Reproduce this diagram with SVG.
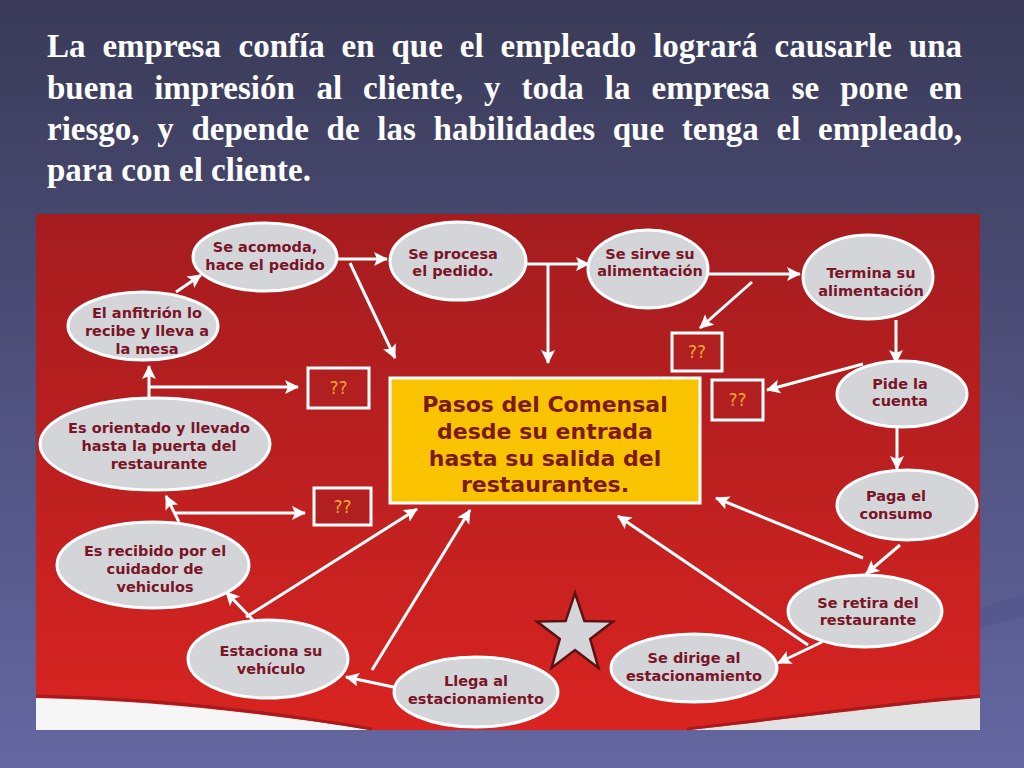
<svg xmlns="http://www.w3.org/2000/svg" width="1024" height="768" viewBox="0 0 1024 768">
<defs>
<linearGradient id="bg" x1="0" y1="0" x2="0" y2="1">
<stop offset="0" stop-color="#3a3a58"/>
<stop offset="1" stop-color="#6467a1"/>
</linearGradient>
<linearGradient id="red" x1="0" y1="0" x2="0" y2="1">
<stop offset="0" stop-color="#a51c1f"/>
<stop offset="0.55" stop-color="#bf2020"/>
<stop offset="1" stop-color="#d92421"/>
</linearGradient>
<marker id="ah" markerUnits="userSpaceOnUse" markerWidth="16" markerHeight="16" refX="13" refY="7" orient="auto">
<path d="M0,0 L14,7 L0,14 L3,7 Z" fill="#ffffff"/>
</marker>
<style>
.title{font-family:"Liberation Serif","Times New Roman",serif;font-size:33px;font-weight:bold;fill:#ffffff}
.node ellipse{fill:#d3d5d9;stroke:#ffffff;stroke-width:3}
.node text{font-family:"DejaVu Sans",Verdana,sans-serif;font-size:14.5px;font-weight:bold;fill:#7a1426;text-anchor:middle}
.q rect{fill:#b21f20;stroke:#ffffff;stroke-width:3}
.q text{font-family:"DejaVu Sans",sans-serif;font-size:17px;fill:#f4a52c;text-anchor:middle}
.conn line{stroke:#ffffff;stroke-width:3;marker-end:url(#ah)}
.center text{font-family:"DejaVu Sans",Verdana,sans-serif;font-size:22px;font-weight:bold;fill:#7a1a12;text-anchor:middle}
</style>
</defs>
<rect x="0" y="0" width="1024" height="768" fill="url(#bg)"/>
<path d="M980,608 C995,603 1010,598 1024,594 L1024,617 C1010,620 995,624 980,628 Z" fill="#56588d"/>

<g id="title" class="title">
<text y="57"><tspan x="47">La</tspan><tspan x="102.4">empresa</tspan><tspan x="238.5">confía</tspan><tspan x="341.6">en</tspan><tspan x="391.5">que</tspan><tspan x="459.8">el</tspan><tspan x="500.6">empleado</tspan><tspan x="653.2">logrará</tspan><tspan x="774.6">causarle</tspan><tspan x="908.8">una</tspan></text>
<text y="99"><tspan x="47">buena</tspan><tspan x="154.2">impresión</tspan><tspan x="316.4">al</tspan><tspan x="363.1">cliente,</tspan><tspan x="484">y</tspan><tspan x="521.5">toda</tspan><tspan x="604.8">la</tspan><tspan x="651.5">empresa</tspan><tspan x="791.7">se</tspan><tspan x="840.2">pone</tspan><tspan x="929">en</tspan></text>
<text y="140"><tspan x="47">riesgo,</tspan><tspan x="157.3">y</tspan><tspan x="191.5">depende</tspan><tspan x="326.6">de</tspan><tspan x="377.3">las</tspan><tspan x="433.6">habilidades</tspan><tspan x="612.7">que</tspan><tspan x="681.8">tenga</tspan><tspan x="776.5">el</tspan><tspan x="818.1">empleado,</tspan></text>
<text y="181" x="47">para con el cliente.</text>
</g>

<g id="panel">
<rect x="36" y="214" width="944" height="516" fill="url(#red)"/>
<path d="M36,698 C140,700 260,712 372,730 L36,730 Z" fill="#f6f6f6"/>
<path d="M36,696 C140,698 260,710 372,729" fill="none" stroke="#a81a1c" stroke-width="3"/>
<path d="M687,730 C800,718 900,704 980,698 L980,730 Z" fill="#e2e2e2"/>
<path d="M687,729 C800,716 900,702 980,696" fill="none" stroke="#a81a1c" stroke-width="3"/>
</g>

<g id="connectors" class="conn">
<line x1="338" y1="259" x2="387" y2="259"/>
<line x1="350" y1="263" x2="395" y2="358"/>
<line x1="527" y1="264" x2="589" y2="264"/>
<line x1="548" y1="264" x2="548" y2="363"/>
<line x1="707" y1="274" x2="800" y2="274"/>
<line x1="752" y1="282" x2="700" y2="328"/>
<line x1="896" y1="320" x2="896" y2="363"/>
<line x1="863" y1="364" x2="767" y2="390"/>
<line x1="897" y1="427" x2="897" y2="469"/>
<line x1="900" y1="545" x2="866" y2="574"/>
<line x1="863" y1="558" x2="716" y2="498"/>
<line x1="822" y1="642" x2="778" y2="663"/>
<line x1="808" y1="645" x2="618" y2="516"/>
<line x1="398" y1="688" x2="346" y2="677"/>
<line x1="253" y1="620" x2="226" y2="592"/>
<line x1="246" y1="617" x2="417" y2="509"/>
<line x1="372" y1="670" x2="470" y2="510"/>
<line x1="179" y1="522" x2="166" y2="496"/>
<line x1="174" y1="513" x2="305" y2="513"/>
<line x1="149" y1="398" x2="149" y2="366"/>
<line x1="149" y1="387" x2="298" y2="387"/>
<line x1="176" y1="292" x2="201" y2="275"/>
</g>

<g id="center" class="center">
<rect x="390" y="378" width="310" height="125" fill="#f9c300" stroke="#ffffff" stroke-width="3"/>
<text x="545" y="412">Pasos del Comensal</text>
<text x="545" y="439">desde su entrada</text>
<text x="545" y="466">hasta su salida del</text>
<text x="545" y="492">restaurantes.</text>
</g>

<g id="q1" class="q"><rect x="308" y="368" width="61" height="40"/><text x="338.5" y="394">??</text></g>
<g id="q2" class="q"><rect x="314" y="488" width="57" height="37"/><text x="342.5" y="513">??</text></g>
<g id="q3" class="q"><rect x="672" y="333" width="50" height="38"/><text x="697" y="358">??</text></g>
<g id="q4" class="q"><rect x="712" y="380" width="51" height="40"/><text x="737.5" y="406">??</text></g>

<g id="n-acomoda" class="node"><ellipse cx="265" cy="257" rx="72" ry="34"/><text x="265" y="252">Se acomoda,</text><text x="265" y="270">hace el pedido</text></g>
<g id="n-anfitrion" class="node"><ellipse cx="143" cy="326" rx="75" ry="34"/><text x="147" y="318">El anfitrión lo</text><text x="147" y="336">recibe y lleva a</text><text x="147" y="354">la mesa</text></g>
<g id="n-orientado" class="node"><ellipse cx="155" cy="444" rx="115" ry="46"/><text x="159" y="433">Es orientado y llevado</text><text x="159" y="451">hasta la puerta del</text><text x="159" y="469">restaurante</text></g>
<g id="n-recibido" class="node"><ellipse cx="153" cy="565" rx="96" ry="43"/><text x="155" y="556">Es recibido por el</text><text x="155" y="574">cuidador de</text><text x="155" y="592">vehiculos</text></g>
<g id="n-estaciona" class="node"><ellipse cx="268" cy="659" rx="80" ry="39"/><text x="271" y="656">Estaciona su</text><text x="271" y="674">vehículo</text></g>
<g id="n-llega" class="node"><ellipse cx="476" cy="692" rx="82" ry="35"/><text x="476" y="686">Llega al</text><text x="476" y="704">estacionamiento</text></g>
<g id="n-dirige" class="node"><ellipse cx="694" cy="668" rx="83" ry="34"/><text x="694" y="663">Se dirige al</text><text x="694" y="681">estacionamiento</text></g>
<g id="n-retira" class="node"><ellipse cx="865" cy="611" rx="77" ry="36"/><text x="868" y="608">Se retira del</text><text x="868" y="625">restaurante</text></g>
<g id="n-paga" class="node"><ellipse cx="907" cy="505" rx="70" ry="35"/><text x="896" y="501">Paga el</text><text x="896" y="519">consumo</text></g>
<g id="n-pide" class="node"><ellipse cx="902" cy="394" rx="65" ry="33"/><text x="900" y="389">Pide la</text><text x="900" y="406">cuenta</text></g>
<g id="n-termina" class="node"><ellipse cx="868" cy="277" rx="65" ry="42"/><text x="871" y="278">Termina su</text><text x="871" y="296">alimentación</text></g>
<g id="n-sirve" class="node"><ellipse cx="648" cy="269" rx="60" ry="39"/><text x="650" y="259">Se sirve su</text><text x="650" y="276">alimentación</text></g>
<g id="n-procesa" class="node"><ellipse cx="458" cy="261" rx="68" ry="39"/><text x="453" y="259">Se procesa</text><text x="453" y="276">el pedido.</text></g>

<g id="star">
<polygon points="575,593 584.4,621.1 613,621.6 590.2,638.9 598.5,668 575,650 551.5,668 559.8,638.9 537,621.6 565.6,621.1" fill="#d3d5d9" stroke="#5a1212" stroke-width="2.5" stroke-linejoin="miter"/>
</g>
</svg>
